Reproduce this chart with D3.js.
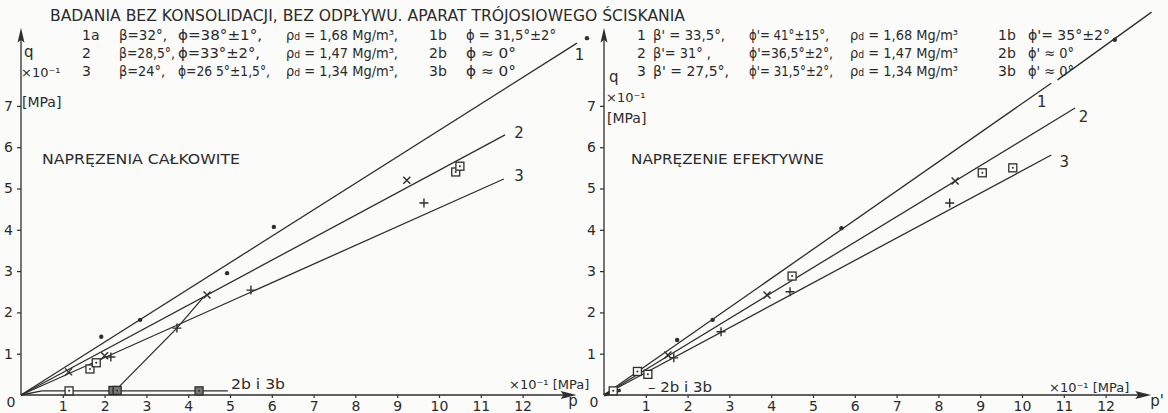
<!DOCTYPE html>
<html>
<head>
<meta charset="utf-8">
<script src="https://cdn.jsdelivr.net/npm/d3@7"></script>
<style>
body { margin: 0; background: #fbfbf9; }
svg { display: block; }
text { font-family: "DejaVu Sans", sans-serif; fill: #2b2b2b; }
</style>
</head>
<body>
<svg id="chart" width="1168" height="413"></svg>
<script>
// ****** Data (p, q in x10^-1 MPa)
var pTicks = [1,2,3,4,5,6,7,8,9,10,11,12];
var qTicks = [1,2,3,4,5,6,7];

// left panel - total stresses
var totLine1 = [[0,0],[13.3,8.52]];
var totLine2 = [[0,0],[11.58,6.3]];
var totLine3 = [[0,0],[11.55,5.23]];
var totLineB = [[0,0],[0.5,0.1],[4.95,0.1]];
var totPath  = [[2.25,0.1],[3.73,1.62],[4.35,2.35]];
var totDots    = [[1.92,1.41],[2.85,1.82],[4.93,2.95],[6.05,4.07],[13.54,8.64]];
var totCross   = [[1.14,0.56],[2.0,0.95],[4.45,2.42],[9.23,5.2]];
var totPlus    = [[2.15,0.92],[3.73,1.62],[5.5,2.54],[9.64,4.65]];
var totSquares = [[1.65,0.63],[1.8,0.78],[10.4,5.4],[10.5,5.54],[1.15,0.1]];
var totSquaresDark = [[2.2,0.11],[2.3,0.11],[4.26,0.1]];
var totLabels  = [["1",13.25,8.24],["2",11.8,6.34],["3",11.8,5.3]];

// right panel - effective stresses
var effLine1  = [[0,0],[10.7,7.55]];
var effLine1b = [[10.85,7.63],[13.1,9.27]];
var effLine2  = [[0,0],[11.27,6.95]];
var effLine3  = [[0,0],[10.7,5.81]];
var effLineB  = [[0,0],[0.4,0.12]];
var effDots    = [[1.75,1.33],[2.6,1.82],[5.68,4.04],[12.22,8.6]];
var effCross   = [[1.53,0.97],[3.9,2.42],[8.4,5.18]];
var effPlus    = [[1.67,0.9],[2.8,1.53],[4.45,2.5],[8.27,4.65]];
var effSquares = [[0.22,0.1],[0.8,0.57],[1.05,0.5],[4.5,2.88],[9.05,5.38],[9.78,5.5]];
var effLabels  = [["1",10.36,7.1],["2",11.36,6.73],["3",10.9,5.64]];

// header rows
var leftIds   = ["1a","2","3"];
var leftBeta  = ["β=32°,","β=28,5°,","β=24°,"];
var leftPhi   = ["ϕ=38°±1°,","ϕ=33°±2°,","ϕ=26 5°±1,5°,"];
var leftRho   = ["1,68","1,47","1,34"];
var leftBIds  = ["1b","2b","3b"];
var leftBPhi  = ["ϕ = 31,5°±2°","ϕ ≈ 0°","ϕ ≈ 0°"];
var rightIds  = ["1","2","3"];
var rightBeta = ["β' = 33,5°,","β'= 31° ,","β' = 27,5°,"];
var rightPhi  = ["ϕ'= 41°±15°,","ϕ'=36,5°±2°,","ϕ'= 31,5°±2°,"];
var rightRho  = ["1,68","1,47","1,34"];
var rightBIds = ["1b","2b","3b"];
var rightBPhi = ["ϕ'= 35°±2°","ϕ' ≈ 0°","ϕ' ≈ 0°"];

// ****** Layout
var svg = d3.select('#chart');
var ink = '#2e2e2e';
var rowY = [40, 58, 76];

function txt(x, y, s, size, len, anchor) {
	var t = svg.append('text').attr('x', x).attr('y', y)
		.style('font-size', size + 'px').text(s);
	if (len) t.attr('textLength', len).attr('lengthAdjust', 'spacingAndGlyphs');
	if (anchor) t.attr('text-anchor', anchor);
	return t;
}

// title
txt(50, 21, "BADANIA BEZ KONSOLIDACJI, BEZ ODPŁYWU. APARAT TRÓJOSIOWEGO ŚCISKANIA", 16, 635);

function rhoText(x, y, val, len, comma) {
	var t = svg.append('text').attr('x', x).attr('y', y).style('font-size', '14px')
		.attr('textLength', len).attr('lengthAdjust', 'spacingAndGlyphs');
	t.append('tspan').text('ρ');
	t.append('tspan').style('font-size', '10px').text('d');
	t.append('tspan').text(' = ' + val + ' Mg/m³' + (comma ? ',' : ''));
	return t;
}

// left header block
rowY.forEach(function(y, i) {
	txt(82, y, leftIds[i], 14);
	txt(119, y, leftBeta[i], 14, [48, 56, 46][i]);
	txt(178, y, leftPhi[i], 14, [84, 82, 92][i]);
	rhoText(286, y, leftRho[i], 112, true);
	txt(429, y, leftBIds[i], 14);
	txt(466, y, leftBPhi[i], 14, [90, 50, 50][i]);
});

// right header block
rowY.forEach(function(y, i) {
	txt(637, y, rightIds[i], 14);
	txt(653, y, rightBeta[i], 14, [72, 58, 76][i]);
	txt(749, y, rightPhi[i], 14, [80, 84, 84][i]);
	rhoText(850, y, rightRho[i], 108, false);
	txt(998, y, rightBIds[i], 14);
	txt(1028, y, rightBPhi[i], 14, [82, 46, 46][i]);
});

// ****** Panels
function drawPanel(o) {
	var x = d3.scaleLinear().domain([0, 12]).range([o.x0, o.x0 + 12 * 41.8]);
	var y = d3.scaleLinear().domain([0, 7]).range([395, 395 - 7 * 41.3]);
	var g = svg.append('g');

	// axes lines with arrows
	g.append('line').attr('x1', x(0)).attr('y1', y(0)).attr('x2', x(o.pMax)).attr('y2', y(0))
		.attr('stroke', ink).attr('stroke-width', 1.3);
	g.append('path').attr('d', 'M' + (x(o.pMax) + 8) + ',' + y(0) + 'l-16,-4l3,4l-3,4z').attr('fill', ink);
	g.append('line').attr('x1', x(0)).attr('y1', y(0)).attr('x2', x(0)).attr('y2', y(o.qMax))
		.attr('stroke', ink).attr('stroke-width', 1.3);
	g.append('path').attr('d', 'M' + x(0) + ',' + (y(o.qMax) - 6) + 'l-3.5,15l3.5,-3l3.5,3z').attr('fill', ink);

	var xAxis = d3.axisBottom(x).tickValues(pTicks).tickSize(3).tickPadding(5).tickFormat(d3.format('d'));
	var yAxis = d3.axisLeft(y).tickValues(qTicks).tickSize(4).tickPadding(4).tickFormat(d3.format('d'));
	var ax = g.append('g').attr('transform', 'translate(0,' + y(0) + ')').call(xAxis);
	var ay = g.append('g').attr('transform', 'translate(' + x(0) + ',0)').call(yAxis);
	[ax, ay].forEach(function(a) {
		a.select('.domain').remove();
		a.selectAll('line').attr('stroke', ink).attr('stroke-width', 1.2);
		a.selectAll('text').style('font-size', '14px').attr('fill', ink)
			.style('font-family', '"DejaVu Sans", sans-serif');
	});
	ax.selectAll('text').attr('dy', '0.55em');

	txt(x(0) - 10, 407, '0', 14, null, 'middle');
	txt(o.pLabelX, 406, o.pName, 15, null, 'middle');

	// units
	txt(o.unitX, o.unitY, '×10⁻¹ [MPa]', 13);
	txt(o.qX, o.qY, 'q', 15);
	txt(o.qX - 3, o.qY + 20, '×10⁻¹', 13);
	txt(o.qX - 2, o.mpaY, '[MPa]', 14);

	txt(o.titleX, 164, o.title, 14, o.titleLen);

	// lines
	var line = d3.line().x(function(d) { return x(d[0]); }).y(function(d) { return y(d[1]); });
	o.lines.forEach(function(l) {
		g.append('path').datum(l.d).attr('d', line).attr('fill', 'none')
			.attr('stroke', ink).attr('stroke-width', l.w || 1.3);
	});
	o.labels.forEach(function(l) {
		txt(x(l[1]), y(l[2]) + 5, l[0], 15);
	});

	// markers
	g.selectAll('.dot').data(o.dots).enter().append('circle')
		.attr('cx', function(d) { return x(d[0]); }).attr('cy', function(d) { return y(d[1]); })
		.attr('r', 2.2).attr('fill', ink);
	o.cross.forEach(function(d) {
		g.append('path').attr('d', 'M' + (x(d[0]) - 3.5) + ',' + (y(d[1]) - 3.5) + 'l7,7m0,-7l-7,7')
			.attr('stroke', ink).attr('stroke-width', 1.4);
	});
	o.plus.forEach(function(d) {
		g.append('path').attr('d', 'M' + (x(d[0]) - 4.5) + ',' + y(d[1]) + 'h9m-4.5,-4.5v9')
			.attr('stroke', ink).attr('stroke-width', 1.4);
	});
	function squares(data, fill) {
		data.forEach(function(d) {
			g.append('rect').attr('x', x(d[0]) - 4).attr('y', y(d[1]) - 4).attr('width', 8).attr('height', 8)
				.attr('fill', fill).attr('stroke', ink).attr('stroke-width', 1.3);
			g.append('circle').attr('cx', x(d[0])).attr('cy', y(d[1])).attr('r', 1).attr('fill', ink);
		});
	}
	squares(o.squares, '#fbfbf9');
	squares(o.squaresDark, '#777');

	// 2b i 3b label
	txt(o.bX, o.bY, o.bText, 14, o.bLen);
}

drawPanel({
	x0: 21, pMax: 13.1, qMax: 8.75, pName: 'p', pLabelX: 573,
	unitX: 509, unitY: 389, qX: 24, qY: 57, mpaY: 107,
	title: 'NAPRĘZENIA  CAŁKOWITE', titleX: 42, titleLen: 198,
	lines: [{d: totLine1}, {d: totLine2}, {d: totLine3}, {d: totLineB}, {d: totPath}],
	labels: totLabels, dots: totDots, cross: totCross, plus: totPlus,
	squares: totSquares, squaresDark: totSquaresDark,
	bText: '2b i 3b', bX: 231, bY: 389, bLen: 54
});

drawPanel({
	x0: 604, pMax: 12.9, qMax: 8.75, pName: "p'", pLabelX: 1157,
	unitX: 1049, unitY: 392, qX: 609, qY: 82, mpaY: 123,
	title: 'NAPRĘZENIE  EFEKTYWNE', titleX: 631, titleLen: 193,
	lines: [{d: effLine1}, {d: effLine1b}, {d: effLine2}, {d: effLine3}, {d: effLineB, w: 3}],
	labels: effLabels, dots: effDots, cross: effCross, plus: effPlus,
	squares: effSquares, squaresDark: [],
	bText: '– 2b i 3b', bX: 648, bY: 392, bLen: 64
});
</script>
</body>
</html>
